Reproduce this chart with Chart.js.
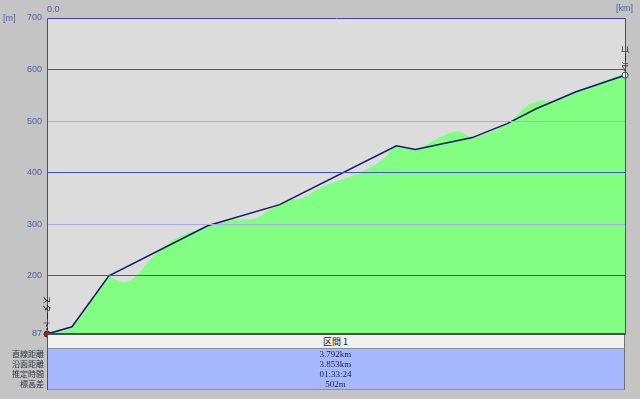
<!DOCTYPE html>
<html>
<head>
<meta charset="utf-8">
<script src="https://cdn.jsdelivr.net/npm/chart.js@4"></script>
<style>
    body { margin: 0; background: #c4c4c4; }
    #wrap { position: relative; width: 640px; height: 399px; }
    canvas { position: absolute; left: 0; top: 0; }
    .strip { position: absolute; left: 47px; top: 335px; width: 577px; height: 13px; background: #f0f0f0;
             border-right: 1px solid #707070; border-bottom: 1px solid #8c8c98;
             font: 9px "Noto Sans CJK JP"; line-height: 13px; text-align: center; color: #202020; }
    .info { position: absolute; left: 47px; top: 349px; width: 577px; height: 40px; background: #a6b8ff;
            border-right: 1px solid #707070; border-bottom: 1px solid #8890a0; }
    .row { height: 10px; font: 9px "Liberation Serif"; line-height: 10px; text-align: center; color: #202040; }
    .labels { position: absolute; left: 0; top: 349px; width: 44px; }
    .labels div { height: 10px; font: 8px "Noto Sans CJK JP"; line-height: 10px; text-align: right; color: #303040; }
    .axisline { position: absolute; left: 47px; top: 334px; width: 1px; height: 56px; background: #4048b8; }
</style>
</head>
<body>
<div id="wrap">
    <canvas id="profileChart" width="640" height="399"></canvas>
    <div class="strip" id="sectionName"></div>
    <div class="info" id="infoBox"></div>
    <div class="labels" id="infoLabels"></div>
    <div class="axisline"></div>
</div>
<script>
// ルート（折れ線）
const routeKm = [0, 0.164, 0.406, 1.054, 1.526, 2.292, 2.417, 2.790, 3.019, 3.209, 3.471, 3.792];
const routeElev = [87, 101, 200, 297, 338, 452, 445, 468, 495, 524, 557, 589];

// 地形断面
const terrainKm = [0, 0.164, 0.406, 0.465, 0.524, 0.609, 0.675, 0.851, 1.054, 1.198, 1.375, 1.460, 1.591,
    1.677, 1.808, 1.984, 2.096, 2.200, 2.292, 2.417, 2.574, 2.659, 2.724, 2.790, 3.019, 3.163, 3.248,
    3.314, 3.471, 3.707, 3.792];
const terrainElev = [89, 101, 198, 190, 188, 207, 231, 273, 295, 308, 312, 328, 347,
    351, 373, 392, 406, 425, 450, 445, 468, 479, 478, 468, 495, 532, 540,
    538, 555, 584, 590];

const yTicks = [87, 200, 300, 400, 500, 600, 700];
const startName = 'スタート';
const goalName = 'ゴール';

const sectionName = '区間 1';
const infoLabels = ['直線距離', '沿面距離', '推定時間', '標高差'];
const infoValues = ['3.792km', '3.853km', '01:33:24', '502m'];

document.getElementById('sectionName').textContent = sectionName;
infoValues.forEach(v => {
    const d = document.createElement('div');
    d.className = 'row';
    d.textContent = v;
    document.getElementById('infoBox').appendChild(d);
});
infoLabels.forEach(v => {
    const d = document.createElement('div');
    d.textContent = v;
    document.getElementById('infoLabels').appendChild(d);
});

const terrainData = terrainKm.map((x, i) => ({ x: x, y: terrainElev[i] }));
const routeData = routeKm.map((x, i) => ({ x: x, y: routeElev[i] }));
const last = routeData.length - 1;

const profilePlugin = {
    id: 'profile',
    beforeDraw(chart) {
        const { ctx, chartArea: a } = chart;
        ctx.save();
        ctx.fillStyle = '#dcdcdc';
        ctx.fillRect(a.left, a.top, a.right - a.left, a.bottom - a.top);
        ctx.restore();
    },
    afterDraw(chart) {
        const { ctx, chartArea: a } = chart;
        ctx.save();
        // 枠線
        ctx.strokeStyle = '#4048b8';
        ctx.lineWidth = 1;
        ctx.beginPath();
        ctx.moveTo(a.left + 0.5, a.bottom);
        ctx.lineTo(a.left + 0.5, a.top + 0.5);
        ctx.lineTo(a.right + 0.5, a.top + 0.5);
        ctx.lineTo(a.right + 0.5, a.bottom);
        ctx.stroke();
        ctx.strokeStyle = '#4c5050';
        ctx.lineWidth = 2;
        ctx.beginPath();
        ctx.moveTo(a.left, a.bottom);
        ctx.lineTo(a.right + 1, a.bottom);
        ctx.stroke();

        ctx.font = '9px "Liberation Sans"';
        ctx.fillStyle = '#5060a8';
        ctx.textBaseline = 'middle';
        ctx.fillText('[m]', 3, a.top + 1);
        ctx.fillText('[km]', a.right - 9, 9);

        // 地点名（縦書き）
        const xs = chart.scales.x, ys = chart.scales.y;
        const names = [[routeData[0], startName], [routeData[last], goalName]];
        ctx.font = '8px "Noto Sans CJK JP"';
        ctx.fillStyle = '#101010';
        ctx.strokeStyle = '#101010';
        ctx.lineWidth = 1;
        names.forEach(([p, name]) => {
            const px = xs.getPixelForValue(p.x);
            const py = ys.getPixelForValue(p.y);
            ctx.beginPath();
            ctx.moveTo(px, py - 4);
            ctx.lineTo(px, py - 6);
            ctx.stroke();
            ctx.save();
            ctx.translate(px, py - 6);
            ctx.rotate(Math.PI / 2);
            ctx.textAlign = 'right';
            ctx.textBaseline = 'middle';
            ctx.fillText(name, 0, 0);
            ctx.restore();
        });
        ctx.restore();
    }
};

new Chart(document.getElementById('profileChart').getContext('2d'), {
    type: 'line',
    data: {
        datasets: [
            {
                label: 'ルート',
                data: routeData,
                borderColor: '#10186c',
                borderWidth: 1.5,
                tension: 0,
                fill: false,
                pointRadius: routeData.map((p, i) => (i === 0 || i === last) ? 3 : 0),
                pointBackgroundColor: routeData.map((p, i) => i === 0 ? '#a01818' : '#ffffff'),
                pointBorderColor: '#303030',
                pointBorderWidth: 1,
                clip: 6
            },
            {
                label: '地形',
                data: terrainData,
                borderWidth: 0,
                borderColor: 'rgba(0,0,0,0)',
                backgroundColor: '#82ff82',
                fill: 'start',
                tension: 0.35,
                pointRadius: 0
            }
        ]
    },
    options: {
        responsive: false,
        animation: false,
        layout: { padding: { left: 0, right: 15, top: 0, bottom: 65 } },
        plugins: { legend: { display: false }, tooltip: { enabled: false } },
        scales: {
            x: {
                type: 'linear',
                position: 'top',
                min: 0,
                max: 3.792,
                afterBuildTicks: s => { s.ticks = [{ value: 0 }]; },
                afterFit: s => { s.height = 18; },
                grid: { display: false, drawTicks: false },
                border: { display: false },
                ticks: {
                    align: 'start',
                    padding: 3,
                    color: '#5060a8',
                    font: { size: 9, family: 'Liberation Sans' },
                    callback: v => v.toFixed(1)
                }
            },
            y: {
                min: 87,
                max: 700,
                afterBuildTicks: s => { s.ticks = yTicks.map(v => ({ value: v })); },
                afterFit: s => { s.width = 47; },
                border: { display: false },
                grid: {
                    z: 1,
                    drawTicks: false,
                    color: c => {
                        const v = c.tick.value;
                        if (v === 600 || v === 400 || v === 200) return '#4450c0';
                        if (v === 500 || v === 300) return '#a6aae6';
                        return 'rgba(0,0,0,0)';
                    }
                },
                ticks: {
                    padding: 5,
                    color: '#5060a8',
                    font: { size: 9, family: 'Liberation Sans' }
                }
            }
        }
    },
    plugins: [profilePlugin]
});
</script>
</body>
</html>
